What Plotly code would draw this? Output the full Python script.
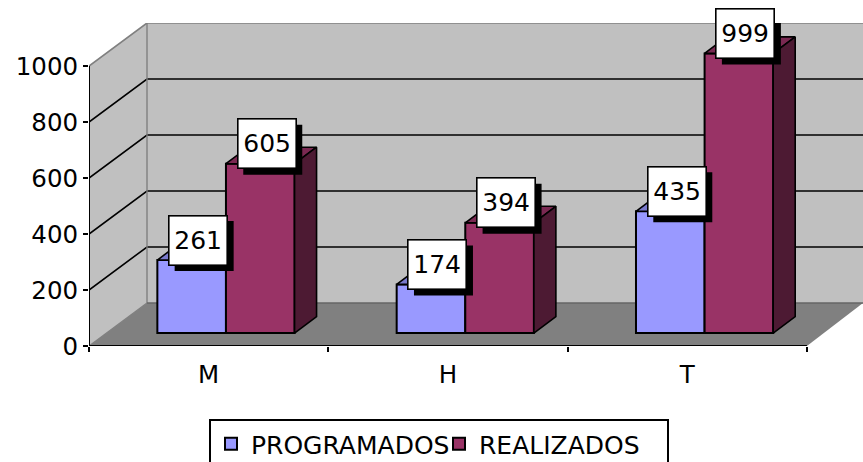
import plotly.graph_objects as go

categories = ["M", "H", "T"]
programados = [261, 174, 435]
realizados = [605, 394, 999]
y_ticks = [0, 200, 400, 600, 800, 1000]

BLUE, BLUE_TOP = "#9999FF", "#7A7ACC"
RED, RED_TOP, RED_SIDE = "#993366", "#7A2952", "#4D1A33"
WALL, FLOOR, EDGE = "#C0C0C0", "#808080", "#808080"
FONT = "DejaVu Sans"

PX_X = 239.3          # pixels per category
PX_Y = 0.28           # pixels per value unit
X_MIN = -0.5
X_MAX = (863 - 208.7) / PX_X
Y_MAX = (346 - 23) / PX_Y
WALL_DX, WALL_DY = 58 / PX_X, 43 / PX_Y      # depth of the chart box
BAR_DX, BAR_DY = 22 / PX_X, 16.5 / PX_Y      # depth of a bar
BAR_BASE = 46
BAR_W = 68.6 / PX_X
OFF_A = -51.3 / PX_X
OFF_B = OFF_A + BAR_W
n = len(categories)
xs = list(range(n))

fig = go.Figure()
shapes = []


def poly(pts, fill=None, color=None, width=1.5, layer="below"):
    d = "M" + " L".join(f"{a},{b}" for a, b in pts)
    if fill:
        d += " Z"
    shapes.append(dict(type="path", path=d, xref="x", yref="y", layer=layer,
                       fillcolor=fill or "rgba(0,0,0,0)",
                       line=dict(color=color or "rgba(0,0,0,0)", width=width)))


xb = X_MIN + WALL_DX
yb = WALL_DY
x_end = X_MIN + n
# back wall, side wall, floor
poly([(xb, yb), (X_MAX, yb), (X_MAX, 1000 + yb), (xb, 1000 + yb)], fill=WALL)
poly([(X_MIN, 0), (xb, yb), (xb, 1000 + yb), (X_MIN, 1000)], fill=WALL)
poly([(X_MIN, 0), (xb, yb), (X_MAX, yb), (x_end, 0)], fill=FLOOR)
# gridlines
for v in y_ticks[1:-1]:
    poly([(X_MIN, v), (xb, v + yb), (X_MAX, v + yb)], color="#000000", width=1.6)
# edges
poly([(X_MIN, 1000), (xb, 1000 + yb), (X_MAX, 1000 + yb)], color=EDGE, width=1.6)
poly([(xb, 1000 + yb), (xb, yb)], color=EDGE, width=1.4)
poly([(X_MIN, 0), (xb, yb)], color=EDGE, width=1.4)
poly([(xb, yb), (X_MAX, yb)], color="#666666", width=1.4)

# front faces
fig.add_trace(go.Bar(name="PROGRAMADOS", x=xs, y=programados, base=BAR_BASE, width=BAR_W, offset=OFF_A,
                     marker=dict(color=BLUE, line=dict(color="black", width=2)), hoverinfo="skip"))
fig.add_trace(go.Bar(name="REALIZADOS", x=xs, y=realizados, base=BAR_BASE, width=BAR_W, offset=OFF_B,
                     marker=dict(color=RED, line=dict(color="black", width=2)), hoverinfo="skip"))


def face(pts, fill):
    fig.add_trace(go.Scatter(x=[p[0] for p in pts], y=[p[1] for p in pts], mode="lines", fill="toself",
                             fillcolor=fill, line=dict(color="black", width=1.6), showlegend=False,
                             hoverinfo="skip", cliponaxis=False))


for i in xs:
    a0, a1 = i + OFF_A, i + OFF_A + BAR_W
    ta = programados[i] + BAR_BASE
    face([(a0, ta), (a1, ta), (a1, ta + BAR_DY), (a0 + BAR_DX, ta + BAR_DY), (a0, ta)], BLUE_TOP)
    b0, b1 = i + OFF_B, i + OFF_B + BAR_W
    tb = realizados[i] + BAR_BASE
    face([(b0, tb), (b1, tb), (b1 + BAR_DX, tb + BAR_DY), (b0 + BAR_DX, tb + BAR_DY), (b0, tb)], RED_TOP)
    face([(b1, BAR_BASE), (b1 + BAR_DX, BAR_BASE + BAR_DY), (b1 + BAR_DX, tb + BAR_DY), (b1, tb), (b1, BAR_BASE)], RED_SIDE)

# axis lines
for xl, yl in (([X_MIN, X_MIN], [0, 1000]), ([X_MIN, x_end], [0, 0])):
    fig.add_trace(go.Scatter(x=xl, y=yl, mode="lines", line=dict(color="black", width=2),
                             showlegend=False, hoverinfo="skip", cliponaxis=False))

# data labels
annotations = []
for i in xs:
    for off, vals in ((OFF_A, programados), (OFF_B, realizados)):
        xc = i + off + BAR_W / 2
        yt = vals[i] + BAR_BASE
        shapes.append(dict(type="rect", layer="above", xref="x", yref="y", xsizemode="pixel", ysizemode="pixel",
                           xanchor=xc, yanchor=yt, x0=-17, x1=42, y0=-11, y1=39,
                           fillcolor="black", line=dict(width=0)))
        annotations.append(dict(x=xc, y=yt, xref="x", yref="y", text=str(vals[i]), showarrow=False,
                                xshift=6.5, yshift=20, width=57, height=48, borderpad=0, borderwidth=1.6,
                                bordercolor="black", bgcolor="white", align="center", valign="middle",
                                font=dict(family=FONT, size=25, color="black")))

fig.update_layout(
    width=863, height=462, autosize=False, barmode="overlay",
    margin=dict(l=89, r=0, t=23, b=116, pad=0, autoexpand=False),
    paper_bgcolor="white", plot_bgcolor="white",
    font=dict(family=FONT, size=24.5, color="black"),
    shapes=shapes, annotations=annotations,
    xaxis=dict(range=[X_MIN, X_MAX], tickmode="array", tickvals=xs, ticktext=categories, ticks="",
               showgrid=False, zeroline=False, showline=False, ticklabelstandoff=11, automargin=False,
               minor=dict(tickmode="array", tickvals=[X_MIN + k for k in range(n + 1)], ticks="outside",
                          ticklen=5, tickwidth=2, tickcolor="black", showgrid=False)),
    yaxis=dict(range=[0, Y_MAX], tickmode="array", tickvals=y_ticks, ticks="outside", ticklen=5, tickwidth=2,
               tickcolor="black", showgrid=False, zeroline=False, showline=False, ticklabelstandoff=0, automargin=False),
    legend=dict(orientation="h", x=(209 - 89) / 774, xanchor="left", y=(346 - 419) / 323, yanchor="top",
                bordercolor="black", borderwidth=2, bgcolor="white", font=dict(family=FONT, size=25, color="black"),
                traceorder="normal", itemclick=False, itemdoubleclick=False, entrywidth=183, entrywidthmode="pixels"),
)
fig.write_html("out.html", config={"displayModeBar": False},
               post_script="document.body.style.margin='0';document.documentElement.style.overflow='hidden';")
